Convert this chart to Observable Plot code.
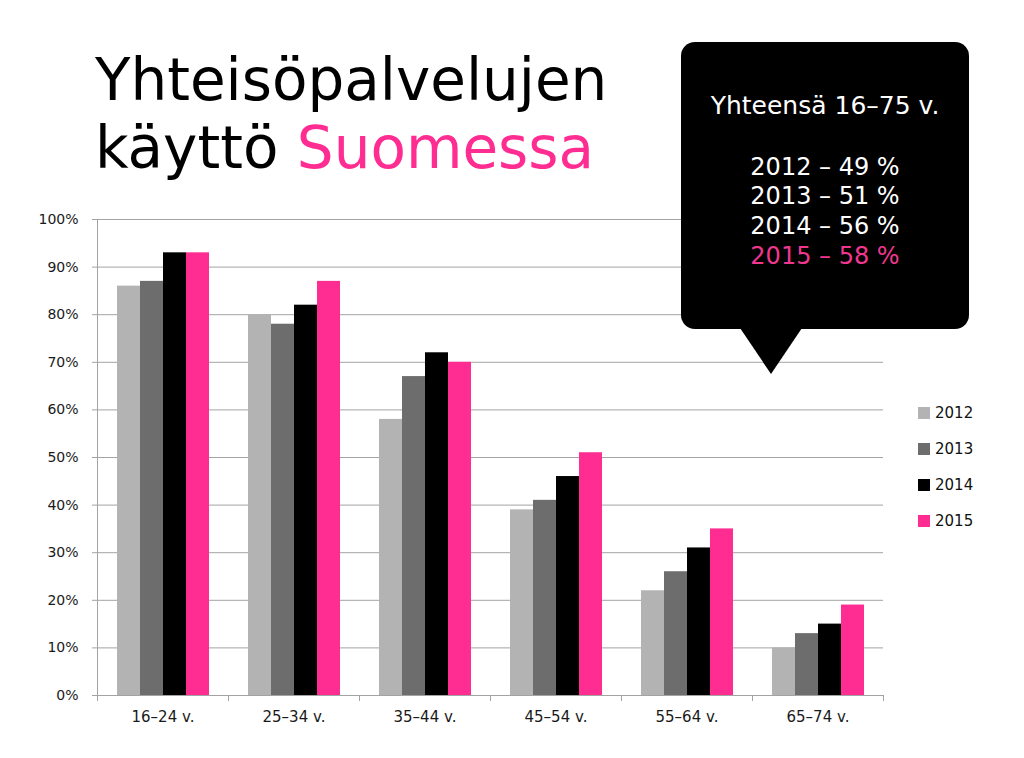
<!DOCTYPE html>
<html>
<head>
<meta charset="utf-8">
<script src="https://cdn.jsdelivr.net/npm/d3@7"></script>
<script src="https://cdn.jsdelivr.net/npm/@observablehq/plot@0.6"></script>
<style>
  html, body { margin:0; padding:0; background:#fff; }
  body { width:1024px; height:758px; position:relative; overflow:hidden; font-family:"DejaVu Sans", sans-serif; color:#000; }
  .tline { position:absolute; left:95px; font-size:58px; line-height:58px; height:58px; white-space:nowrap; }
  .pink { color:#ff2d92; }
  #chart { position:absolute; left:0; top:200px; }
  #callout { position:absolute; left:681px; top:42px; width:288px; height:287px; background:#000; border-radius:14px; z-index:5; }
  #tip { position:absolute; left:740px; top:328px; width:0; height:0; border-left:31px solid transparent; border-right:31px solid transparent; border-top:46px solid #000; z-index:5; }
  .cl { position:absolute; left:0; width:288px; text-align:center; color:#fff; white-space:nowrap; line-height:24px; }
  #legend { position:absolute; left:918px; top:0; }
  .lg { position:absolute; left:0; white-space:nowrap; font-size:15px; line-height:15px; color:#111; }
  .sw { display:inline-block; width:12px; height:12px; margin-right:5px; vertical-align:-1px; }
</style>
</head>
<body>
<div id="title"></div>
<div id="chart"></div>
<div id="callout"></div>
<div id="tip"></div>
<div id="legend"></div>
<script>
// ---- data ----
const titleBlack1 = "Yhteisöpalvelujen";
const titleBlack2 = "käyttö ";
const titlePink = "Suomessa";
const groups = ["16–24 v.", "25–34 v.", "35–44 v.", "45–54 v.", "55–64 v.", "65–74 v."];
const years = ["2012", "2013", "2014", "2015"];
const values2012 = [86, 80, 58, 39, 22, 10];
const values2013 = [87, 78, 67, 41, 26, 13];
const values2014 = [93, 82, 72, 46, 31, 15];
const values2015 = [93, 87, 70, 51, 35, 19];
const yearColors = ["#b3b3b3", "#6d6d6d", "#000000", "#ff2d92"];
const yTicks = [0, 0.1, 0.2, 0.3, 0.4, 0.5, 0.6, 0.7, 0.8, 0.9, 1];
const calloutTitle = "Yhteensä 16–75 v.";
const totals = [49, 51, 56, 58];

// ---- title ----
const TF = 58, TL = 58;
const baseOff = (TL - 1.164 * TF) / 2 + 0.928 * TF;
const title = document.getElementById("title");
const l1 = document.createElement("div");
l1.className = "tline"; l1.style.top = (100.5 - baseOff) + "px"; l1.textContent = titleBlack1;
const l2 = document.createElement("div");
l2.className = "tline"; l2.style.top = (168.5 - baseOff) + "px";
l2.append(titleBlack2);
const sp = document.createElement("span"); sp.className = "pink"; sp.textContent = titlePink; l2.append(sp);
title.append(l1, l2);

// ---- chart ----
const series = [values2012, values2013, values2014, values2015];
const data = groups.flatMap((g, i) => years.map((yr, j) => ({group: g, year: yr, value: series[j][i] / 100})));

const chart = Plot.plot({
  width: 1024,
  height: 540,
  marginLeft: 95,
  marginRight: 139,
  marginTop: 19,
  marginBottom: 45,
  style: {fontFamily: "DejaVu Sans", overflow: "visible", background: "transparent", color: "#1a1a1a"},
  fx: {domain: groups, padding: 0, label: null},
  x: {domain: years, paddingInner: 0, paddingOuter: 0.75, axis: null},
  y: {domain: [0, 1], label: null},
  color: {domain: years, range: yearColors},
  marks: [
    Plot.gridY(yTicks, {stroke: "#a3a3a3", strokeOpacity: 1, strokeWidth: 1}),
    Plot.barY(data, {fx: "group", x: "year", y: "value", fill: "year"}),
    Plot.ruleY([0], {stroke: "#a3a3a3", strokeWidth: 1}),
    Plot.axisY(yTicks, {tickSize: 5, tickPadding: 14, fontSize: 14, tickFormat: d3.format(".0%"), stroke: "#a3a3a3", fill: "#1a1a1a", label: null}),
    Plot.axisFx({anchor: "bottom", tickSize: 0, tickPadding: 16, fontSize: 15, fill: "#1a1a1a", label: null})
  ]
});
document.getElementById("chart").append(chart);

// axis line and group-boundary ticks from the plot's own scales
const fxS = chart.scale("fx"), yS = chart.scale("y");
const svg = d3.select(chart);
const y0 = yS.apply(0), y1 = yS.apply(1);
const edges = groups.map(g => fxS.apply(g)).concat([fxS.apply(groups[groups.length - 1]) + fxS.bandwidth]);
const deco = svg.append("g").attr("stroke", "#a3a3a3").attr("stroke-width", 1);
deco.append("line").attr("x1", edges[0] + 0.5).attr("x2", edges[0] + 0.5).attr("y1", y1).attr("y2", y0 + 0.5);
deco.selectAll("line.t").data(edges).join("line").attr("class", "t")
  .attr("x1", d => Math.round(d) + 0.5).attr("x2", d => Math.round(d) + 0.5)
  .attr("y1", y0).attr("y2", y0 + 6);

// ---- callout ----
const callout = document.getElementById("callout");
const ch = document.createElement("div");
ch.className = "cl"; ch.style.fontSize = "25px"; ch.style.top = (115 - 42 - 0.846 * 24 - 0.5) + "px";
ch.textContent = calloutTitle;
callout.append(ch);
years.forEach((yr, i) => {
  const d = document.createElement("div");
  d.className = "cl"; d.style.fontSize = "24px";
  d.style.top = (175 + i * 29.7 - 42 - 0.846 * 24) + "px";
  d.textContent = yr + " – " + totals[i] + " %";
  if (i === years.length - 1) d.style.color = "#f0378f";
  callout.append(d);
});

// ---- legend ----
const legend = document.getElementById("legend");
years.forEach((yr, i) => {
  const row = document.createElement("div");
  row.className = "lg";
  row.style.top = (413 + i * 36.3 - 7.5) + "px";
  const sw = document.createElement("span");
  sw.className = "sw"; sw.style.background = yearColors[i];
  row.append(sw, yr);
  legend.append(row);
});
</script>
</body>
</html>
